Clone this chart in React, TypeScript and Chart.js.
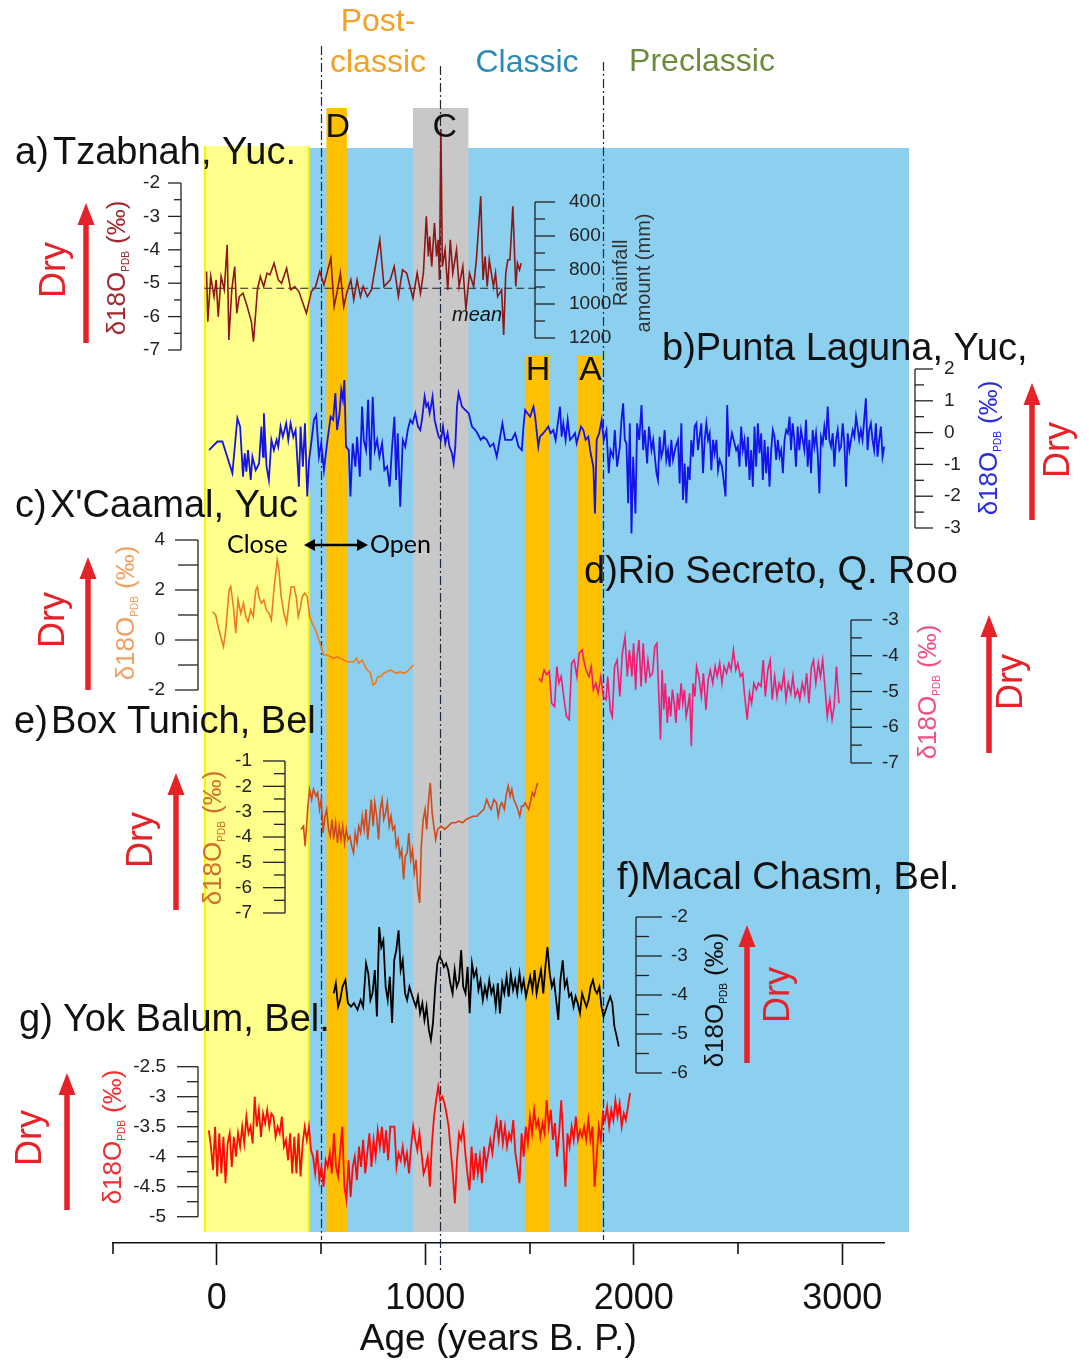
import React, { useEffect, useRef } from "react";
import { Chart, registerables } from "chart.js";

Chart.register(...registerables);

type Pt = [number, number];

// ---------------- x axis ----------------
const xRange = [-500, 3200];
const xMajorTicks = [0, 1000, 2000, 3000];
const xMinorTicks = [-500, 500, 1500, 2500];

// ---------------- periods / events (years B.P.) ----------------
const periodBoundaries = [502, 1072, 1852];
const skySpan = [-57, 3320];
const closedSpan = [-57, 442];
const eventLetters = ["D", "C", "H", "A"];
const eventSpans = [[526, 624], [941, 1207], [1478, 1593], [1729, 1848]];

// ---------------- series: [age, d18O] ----------------
const tzabnah: Pt[] = [[-49,-4.65],[-43,-6.15],[-29,-4.8],[-13,-5.4],[-3,-4.9],[7,-6.0],[21,-4.8],[36,-5.2],[50,-3.85],[58,-6.7],[72,-5.2],[86,-4.5],[96,-5.9],[108,-5.4],[126,-5.3],[146,-5.7],[166,-6.15],[176,-6.75],[195,-5.2],[209,-4.8],[225,-5.1],[241,-4.7],[255,-4.75],[275,-4.4],[295,-4.9],[311,-5.0],[335,-4.55],[355,-5.2],[374,-5.1],[394,-5.25],[430,-5.9],[454,-5.25],[474,-5.1],[494,-4.65],[514,-5.05],[547,-4.25],[563,-5.7],[579,-5.2],[593,-4.7],[609,-5.7],[623,-5.3],[643,-4.9],[657,-5.5],[673,-4.9],[689,-5.4],[702,-5.1],[722,-5.4],[742,-5.2],[782,-3.7],[802,-5.1],[832,-4.9],[851,-4.5],[871,-5.4],[891,-4.6],[911,-4.7],[941,-5.45],[961,-4.7],[977,-5.3],[991,-4.7],[1005,-3.0],[1015,-4.2],[1021,-3.6],[1031,-4.5],[1044,-3.2],[1054,-4.2],[1062,-3.7],[1068,-4.9],[1075,-0.4],[1082,-4.5],[1095,-4.0],[1108,-5.2],[1120,-3.7],[1132,-4.7],[1150,-4.0],[1162,-5.1],[1180,-4.5],[1195,-5.8],[1212,-4.7],[1232,-5.1],[1245,-4.3],[1266,-2.4],[1277,-4.9],[1287,-4.2],[1297,-5.1],[1307,-4.3],[1327,-5.1],[1337,-4.7],[1347,-5.4],[1366,-5.2],[1376,-6.55],[1386,-4.7],[1396,-4.3],[1406,-4.3],[1420,-2.7],[1434,-5.1],[1442,-4.4],[1452,-4.6],[1460,-4.4]];
const tzabnahMean = -5.15;
const tzabnahMeanSpan = [-60, 1555];

const puntaLaguna: Pt[] = [[-37,-0.55],[3,-0.28],[27,-0.28],[75,-1.28],[99,0.45],[112,0.19],[126,-1.39],[134,-0.65],[142,-1.23],[150,-0.55],[163,-1.49],[171,-0.76],[187,-1.18],[203,-0.97],[214,0.19],[222,-0.76],[226,0.61],[239,-1.07],[250,-1.49],[262,-0.23],[274,-0.55],[287,-0.23],[295,-0.44],[306,0.19],[317,-0.13],[333,0.29],[343,-0.23],[354,0.29],[367,-0.13],[378,0.08],[394,-1.70],[402,0.19],[413,-1.07],[423,0.29],[434,-2.01],[443,-0.86],[453,-0.34],[466,0.40],[477,0.55],[490,-0.76],[501,-0.34],[514,-1.18],[529,-0.34],[546,0.50],[558,0.40],[569,1.24],[577,0.08],[589,0.61],[597,1.34],[605,1.03],[612,1.65],[620,-0.44],[633,-0.55],[641,-2.01],[652,-0.34],[665,-1.07],[673,-0.13],[686,-1.39],[697,0.82],[705,-0.23],[716,-0.55],[726,1.03],[737,-1.18],[748,1.13],[758,-0.55],[769,-0.23],[780,-0.76],[793,-0.34],[804,-1.18],[817,-1.07],[829,-1.70],[841,-0.44],[852,0.50],[860,-1.49],[868,-0.02],[880,-2.33],[892,-0.23],[904,-0.44],[916,0.08],[928,0.40],[939,0.29],[952,0.61],[965,0.19],[976,0.08],[984,0.40],[997,1.13],[1005,0.82],[1013,0.92],[1021,0.61],[1027,0.82],[1035,1.13],[1045,0.40],[1056,0.08],[1064,-0.13],[1075,-0.23],[1085,0.19],[1096,-0.34],[1107,-0.02],[1116,-0.44],[1128,-0.65],[1136,-0.97],[1144,-0.44],[1152,0.82],[1160,1.24],[1168,1.03],[1176,0.82],[1192,0.71],[1208,0.61],[1224,0.19],[1240,0.08],[1250,-0.02],[1266,-0.23],[1279,-0.13],[1295,-0.23],[1311,-0.44],[1327,-0.34],[1343,-0.76],[1359,-0.13],[1370,0.29],[1383,-0.23],[1399,-0.23],[1415,-0.23],[1431,-0.02],[1447,-0.44],[1463,-0.55],[1471,0.19],[1479,0.71],[1490,0.61],[1503,0.50],[1519,0.82],[1527,0.50],[1542,-0.44],[1550,-0.13],[1566,-0.02],[1578,0.08],[1590,0.19],[1601,-0.02],[1614,0.08],[1625,-0.23],[1638,0.40],[1646,0.82],[1654,-0.13],[1662,0.29],[1673,-0.23],[1683,0.40],[1694,-0.23],[1707,-0.13],[1718,-0.02],[1726,-0.34],[1734,-0.13],[1747,0.19],[1758,0.08],[1769,-0.23],[1782,-0.13],[1793,-0.65],[1806,-1.07],[1814,-2.54],[1822,-0.23],[1834,-0.02],[1846,0.40],
[1856,-0.23],[1869,0.08],[1880,-1.28],[1888,-0.55],[1901,-0.76],[1909,0.08],[1920,-1.07],[1933,-0.44],[1941,0.40],[1949,0.92],[1957,-0.23],[1965,-0.34],[1973,-2.22],[1981,0.29],[1989,-3.17],[1997,-0.76],[2008,-2.54],[2016,0.29],[2026,-0.23],[2037,0.87],[2045,-0.55],[2053,0.08],[2064,-0.97],[2073,0.19],[2085,-0.55],[2093,-0.23],[2101,-0.76],[2109,-1.28],[2116,-1.49],[2124,-0.13],[2132,-0.76],[2140,-0.55],[2148,0.08],[2156,-0.86],[2164,-0.55],[2172,-1.07],[2180,-0.23],[2188,-0.86],[2201,-0.44],[2212,-0.23],[2220,-1.60],[2228,0.29],[2236,-2.12],[2244,-0.97],[2252,-2.22],[2260,-1.07],[2268,-1.49],[2276,-0.23],[2284,-0.76],[2292,0.19],[2300,0.29],[2308,-0.55],[2316,-0.13],[2324,0.29],[2332,-1.28],[2340,-0.23],[2348,0.29],[2356,-0.23],[2364,-0.02],[2372,-1.18],[2380,-0.23],[2388,-0.65],[2396,-0.23],[2404,-1.18],[2412,-0.86],[2423,-1.07],[2431,-1.49],[2440,-2.01],[2448,0.87],[2456,-0.76],[2463,-0.34],[2471,-0.02],[2479,-0.23],[2491,-0.55],[2499,-0.44],[2507,-1.07],[2515,0.19],[2523,-0.55],[2531,-0.23],[2539,-1.07],[2547,-0.13],[2555,-1.49],[2563,-0.55],[2571,-1.70],[2579,0.19],[2587,-1.07],[2595,0.29],[2603,-0.65],[2611,-0.02],[2619,-1.49],[2627,-0.23],[2635,-1.28],[2643,-0.44],[2651,-1.70],[2659,-0.55],[2667,0.08],[2675,-0.13],[2683,-0.86],[2691,-0.23],[2699,-0.76],[2707,-0.55],[2715,-1.28],[2723,-0.23],[2731,0.08],[2739,-0.02],[2747,0.50],[2754,-0.55],[2762,0.29],[2770,-0.23],[2778,-1.07],[2786,0.19],[2794,-0.55],[2802,0.08],[2810,-0.23],[2818,-0.55],[2826,0.40],[2834,-1.07],[2842,-0.23],[2850,-1.28],[2858,0.08],[2866,-0.44],[2874,-0.02],[2882,-0.65],[2890,-1.91],[2898,-0.13],[2906,-0.34],[2914,0.19],[2922,-0.23],[2930,0.82],[2938,-0.23],[2946,-0.44],[2954,-0.02],[2962,-1.07],[2970,-0.23],[2978,0.08],[2986,-0.55],[2994,-0.44],[3002,0.29],[3010,-0.34],[3018,-1.70],[3026,-0.02],[3034,-0.55],[3042,-0.23],[3050,0.08],[3058,-0.13],[3066,0.50],[3073,0.19],[3081,-0.23],[3089,0.08],[3097,-0.23],[3105,0.40],[3113,1.08],[3121,-0.55],[3129,0.08],[3137,0.29],[3145,-0.23],[3153,-0.55],[3161,0.29],[3169,-0.76],[3177,-0.23],[3185,0.19],[3193,-0.76],[3201,-0.44],[3209,0.19],[3217,-0.55],[3225,0.40],[3233,-0.23],[3241,0.19],[3249,-0.55],[3257,-0.02],[3265,-0.34],[3273,-0.13],[3281,-0.55],[3289,-0.23],[3297,0.40],[3305,-0.76],[3313,-0.23],[3318,-0.65]];

const xcaamal: Pt[] = [[-21,1.13],[-5,1.0],[3,0.67],[19,0.13],[32,-0.27],[43,0.4],[59,2.0],[67,2.13],[80,1.33],[91,0.27],[102,1.6],[115,1.07],[128,1.47],[139,0.93],[150,0.73],[163,1.2],[175,0.93],[187,2.0],[195,2.13],[202,1.73],[214,1.47],[226,1.6],[238,1.2],[250,1.07],[262,0.8],[274,2.0],[290,3.2],[298,2.8],[309,1.73],[322,1.07],[335,0.67],[346,1.47],[357,2.13],[370,2.13],[381,1.73],[391,0.93],[402,1.33],[410,1.73],[421,1.87],[434,1.73],[446,0.93],[458,0.67],[474,0.4],[490,0.0],[501,-0.27],[513,-0.6],[530,-0.6],[545,-0.67],[561,-0.73],[577,-0.67],[593,-0.73],[609,-0.8],[625,-0.87],[641,-0.87],[657,-0.87],[670,-0.73],[681,-0.93],[697,-0.8],[708,-1.0],[721,-1.2],[737,-1.33],[750,-1.8],[761,-1.73],[772,-1.47],[785,-1.47],[800,-1.33],[816,-1.27],[833,-1.2],[848,-1.27],[864,-1.33],[880,-1.27],[896,-1.33],[912,-1.27],[928,-1.13],[944,-1.0]];

const rioSecreto: Pt[] = [[1545,-4.63],[1557,-4.72],[1570,-4.4],[1583,-4.53],[1595,-4.44],[1606,-5.33],[1620,-5.42],[1631,-4.3],[1641,-4.77],[1652,-4.58],[1664,-5.14],[1677,-5.7],[1690,-5.79],[1702,-4.21],[1714,-4.12],[1727,-4.58],[1738,-3.93],[1752,-3.84],[1760,-4.12],[1771,-4.4],[1785,-4.58],[1796,-4.3],[1806,-4.95],[1818,-4.77],[1829,-5.05],[1842,-4.58],[1854,-5.14],[1867,-5.23],[1875,-4.58],[1887,-5.51],[1897,-5.7],[1908,-4.3],[1920,-4.12],[1933,-5.14],[1945,-3.93],[1958,-3.47],[1969,-4.58],[1979,-3.84],[1991,-4.58],[1999,-3.65],[2009,-4.95],[2016,-4.02],[2025,-3.56],[2035,-4.86],[2045,-3.65],[2057,-4.77],[2068,-4.12],[2078,-4.58],[2090,-4.49],[2101,-3.74],[2111,-3.65],[2119,-4.95],[2128,-6.35],[2136,-4.4],[2144,-5.51],[2151,-4.77],[2161,-5.88],[2169,-5.14],[2177,-5.7],[2185,-4.95],[2194,-5.33],[2202,-5.88],[2210,-5.05],[2218,-5.51],[2227,-4.77],[2235,-5.33],[2243,-4.95],[2251,-5.7],[2260,-5.42],[2268,-5.05],[2276,-6.53],[2284,-4.77],[2293,-5.14],[2301,-4.3],[2312,-4.58],[2324,-5.14],[2334,-4.49],[2346,-5.51],[2357,-4.67],[2367,-4.4],[2379,-4.77],[2390,-4.3],[2400,-4.58],[2412,-4.21],[2423,-4.77],[2433,-4.3],[2445,-4.49],[2456,-4.21],[2466,-4.4],[2478,-3.84],[2489,-4.4],[2499,-4.21],[2511,-4.58],[2522,-4.49],[2532,-5.14],[2544,-5.79],[2555,-5.05],[2565,-5.33],[2576,-4.77],[2588,-4.95],[2598,-4.77],[2610,-4.86],[2621,-4.12],[2631,-5.14],[2643,-4.4],[2654,-4.12],[2664,-5.23],[2676,-4.58],[2687,-5.14],[2697,-4.77],[2708,-4.95],[2720,-4.49],[2730,-5.23],[2741,-4.77],[2753,-5.05],[2763,-4.58],[2774,-5.14],[2786,-4.95],[2796,-5.23],[2808,-4.77],[2819,-5.05],[2829,-4.49],[2840,-5.33],[2852,-4.3],[2862,-4.12],[2873,-4.77],[2885,-4.21],[2895,-4.58],[2906,-4.12],[2918,-4.95],[2928,-5.7],[2940,-5.23],[2951,-5.79],[2961,-5.42],[2972,-4.3],[2984,-5.33]];

const boxTunich: Pt[] = [[404,-3.7],[416,-3.57],[424,-4.36],[436,-2.91],[445,-2.12],[455,-2.52],[464,-2.12],[476,-2.39],[484,-2.25],[493,-2.91],[501,-2.52],[510,-3.84],[519,-3.18],[527,-2.91],[536,-3.7],[544,-3.97],[553,-3.31],[561,-4.1],[570,-3.44],[579,-4.23],[587,-3.57],[596,-4.1],[604,-3.57],[613,-4.23],[621,-3.7],[630,-4.1],[639,-3.97],[647,-4.36],[656,-4.63],[664,-3.84],[673,-4.23],[681,-3.57],[690,-3.84],[698,-3.18],[707,-3.7],[716,-2.91],[724,-4.1],[733,-3.31],[741,-2.52],[750,-3.57],[758,-2.65],[767,-3.18],[776,-4.1],[784,-2.91],[793,-2.52],[801,-3.31],[810,-3.04],[818,-2.65],[827,-3.57],[836,-3.18],[844,-3.7],[853,-3.57],[861,-4.36],[870,-4.1],[878,-4.76],[887,-4.5],[896,-5.68],[904,-4.76],[913,-4.63],[921,-3.84],[930,-4.89],[939,-4.5],[947,-5.42],[956,-4.89],[964,-6.08],[973,-6.6],[981,-4.36],[990,-3.31],[999,-2.91],[1007,-3.7],[1016,-2.52],[1024,-1.86],[1033,-3.04],[1041,-3.57],[1050,-4.1],[1059,-3.7],[1076,-3.57],[1093,-3.7],[1110,-3.57],[1127,-3.44],[1144,-3.44],[1161,-3.37],[1179,-3.44],[1196,-3.31],[1213,-3.24],[1230,-3.18],[1247,-3.18],[1264,-3.04],[1281,-2.91],[1295,-2.52],[1307,-2.78],[1316,-2.91],[1329,-2.52],[1341,-2.65],[1350,-3.18],[1359,-2.78],[1367,-2.65],[1379,-2.91],[1390,-2.25],[1398,-1.99],[1407,-2.39],[1415,-2.12],[1424,-2.52],[1432,-2.65],[1444,-2.91],[1453,-3.18],[1462,-2.78],[1470,-2.78],[1479,-2.65],[1487,-2.78],[1496,-2.91],[1504,-2.65],[1513,-2.25],[1522,-2.39],[1530,-2.12],[1539,-1.86]];

const macalChasm: Pt[] = [[561,-3.96],[571,-3.7],[582,-4.3],[592,-4.13],[603,-3.79],[617,-3.62],[629,-4.21],[644,-4.3],[658,-4.21],[675,-4.38],[690,-4.13],[702,-4.3],[716,-3.19],[727,-3.45],[737,-4.13],[747,-3.96],[758,-3.36],[768,-4.55],[779,-2.26],[789,-2.77],[799,-2.6],[810,-3.79],[820,-4.13],[830,-3.53],[841,-4.72],[851,-3.11],[861,-2.85],[872,-2.34],[882,-3.36],[892,-3.11],[903,-3.96],[913,-4.13],[924,-3.79],[934,-3.96],[944,-4.13],[955,-4.3],[965,-4.04],[975,-4.47],[986,-4.21],[996,-4.64],[1006,-4.3],[1017,-4.89],[1027,-5.15],[1037,-4.72],[1048,-3.79],[1058,-3.19],[1068,-3.02],[1079,-3.11],[1089,-3.28],[1100,-3.19],[1110,-3.36],[1120,-3.7],[1131,-3.96],[1141,-3.36],[1151,-3.79],[1162,-3.62],[1172,-2.85],[1182,-3.79],[1193,-3.96],[1203,-3.28],[1213,-4.47],[1224,-3.19],[1234,-3.53],[1245,-3.36],[1255,-3.87],[1265,-3.62],[1276,-4.13],[1286,-3.79],[1296,-4.04],[1307,-3.62],[1317,-3.96],[1327,-3.79],[1338,-4.3],[1348,-3.7],[1358,-4.47],[1369,-3.7],[1379,-3.96],[1390,-3.53],[1400,-4.04],[1410,-3.45],[1421,-3.87],[1431,-3.62],[1441,-3.96],[1452,-3.45],[1462,-3.87],[1472,-3.62],[1483,-4.04],[1493,-3.79],[1503,-3.53],[1514,-3.87],[1524,-3.36],[1534,-3.96],[1545,-3.62],[1555,-3.36],[1566,-3.96],[1576,-3.28],[1586,-2.77],[1597,-3.45],[1607,-3.79],[1617,-3.62],[1628,-4.13],[1638,-4.64],[1648,-3.62],[1659,-3.11],[1669,-3.79],[1679,-3.62],[1690,-4.04],[1700,-3.96],[1711,-4.3],[1721,-4.04],[1731,-4.21],[1742,-4.47],[1752,-3.96],[1762,-4.13],[1773,-4.3],[1783,-4.13],[1793,-3.79],[1804,-3.62],[1814,-3.87],[1824,-3.96],[1835,-3.79],[1845,-4.3],[1855,-4.55],[1866,-4.38],[1876,-4.21],[1887,-4.04],[1897,-4.21],[1907,-4.81],[1918,-5.06],[1928,-5.32]];

const yokBalum: Pt[] = [[-38,-3.56],[-28,-3.83],[-18,-4.22],[-8,-3.5],[2,-4.33],[12,-3.61],[22,-4.28],[32,-3.67],[42,-4.44],[52,-3.78],[62,-3.61],[72,-4.17],[82,-3.67],[92,-4.0],[102,-3.61],[112,-3.83],[122,-3.5],[132,-3.78],[142,-3.33],[152,-3.61],[162,-3.5],[172,-3.78],[182,-3.0],[192,-3.5],[202,-3.22],[212,-3.67],[222,-3.28],[232,-3.44],[242,-3.22],[252,-3.5],[262,-3.28],[272,-3.33],[282,-3.67],[292,-3.5],[302,-3.61],[312,-3.33],[322,-3.83],[332,-3.72],[342,-4.06],[352,-3.61],[362,-4.28],[372,-3.67],[382,-4.28],[392,-3.61],[402,-4.33],[412,-3.78],[422,-3.5],[432,-3.72],[442,-3.5],[452,-3.89],[462,-4.0],[472,-4.28],[482,-3.89],[492,-4.39],[502,-4.17],[512,-4.5],[522,-4.06],[532,-4.17],[542,-3.94],[552,-4.28],[562,-3.61],[572,-4.17],[582,-4.33],[592,-3.89],[602,-3.5],[612,-4.5],[622,-4.72],[632,-4.06],[642,-4.67],[652,-4.17],[662,-4.0],[672,-4.39],[682,-3.83],[692,-4.17],[702,-3.72],[712,-4.28],[722,-3.94],[732,-3.61],[742,-4.17],[752,-3.72],[762,-4.0],[772,-3.56],[782,-3.83],[792,-3.5],[802,-3.94],[812,-3.56],[822,-4.06],[832,-3.5],[842,-3.5],[852,-3.5],[862,-4.17],[872,-3.94],[882,-4.06],[892,-3.83],[902,-4.11],[912,-3.94],[922,-4.28],[932,-3.83],[942,-3.5],[952,-3.72],[962,-3.89],[972,-3.61],[982,-3.94],[992,-4.28],[1002,-4.17],[1012,-4.0],[1022,-4.5],[1032,-3.78],[1042,-3.33],[1052,-3.06],[1062,-2.83],[1072,-3.06],[1082,-3.0],[1092,-3.11],[1102,-3.28],[1112,-3.5],[1122,-3.89],[1132,-4.28],[1142,-4.78],[1152,-4.06],[1162,-3.61],[1172,-3.72],[1182,-3.5],[1192,-3.94],[1202,-4.28],[1212,-4.56],[1222,-3.83],[1232,-4.39],[1242,-3.94],[1252,-4.28],[1262,-4.0],[1272,-4.44],[1282,-3.83],[1292,-4.17],[1302,-3.94],[1312,-3.72],[1322,-3.94],[1332,-3.61],[1342,-3.39],[1352,-3.72],[1362,-3.39],[1372,-3.78],[1382,-3.5],[1392,-3.83],[1402,-3.61],[1412,-3.72],[1422,-3.39],[1432,-3.94],[1442,-4.17],[1452,-4.44],[1462,-3.61],[1472,-4.0],[1482,-3.5],[1492,-3.78],[1502,-3.33],[1512,-3.61],[1522,-3.22],[1532,-3.5],[1542,-3.39],[1552,-3.67],[1562,-3.44],[1572,-3.61],[1582,-3.06],[1592,-3.5],[1602,-3.22],[1612,-3.72],[1622,-3.44],[1632,-4.0],[1642,-3.61],[1652,-3.06],[1662,-3.72],[1672,-4.5],[1682,-3.61],[1692,-3.83],[1702,-3.5],[1712,-3.72],[1722,-3.33],[1732,-3.72],[1742,-3.56],[1752,-3.67],[1762,-3.5],[1772,-3.72],[1782,-3.39],[1792,-3.72],[1802,-3.5],[1812,-4.5],[1822,-4.0],[1832,-3.5],[1842,-3.72],[1852,-3.28],[1862,-3.39],[1872,-3.17],[1882,-3.5],[1892,-3.22],[1902,-3.39],[1912,-3.06],[1922,-3.33],[1932,-3.11],[1942,-3.5],[1952,-3.28],[1962,-3.39],[1972,-3.17],[1982,-2.94]];

// ---------------- series axis ticks ----------------
const tzabTicks = [-2, -3, -4, -5, -6, -7];
const tzabMinor = [-2.5, -3.5, -4.5, -5.5, -6.5];
const rainTicks = [400, 600, 800, 1000, 1200];
const rainMinor = [500, 700, 900, 1100];
const puntaTicks = [2, 1, 0, -1, -2, -3];
const puntaMinor = [1.5, 0.5, -0.5, -1.5, -2.5];
const xcaTicks = [4, 2, 0, -2];
const xcaMinor = [3, 1, -1];
const rioTicks = [-3, -4, -5, -6, -7];
const rioMinor = [-3.5, -4.5, -5.5, -6.5];
const boxTicks = [-1, -2, -3, -4, -5, -6, -7];
const boxMinor = [-1.5, -2.5, -3.5, -4.5, -5.5, -6.5];
const macalTicks = [-2, -3, -4, -5, -6];
const macalMinor = [-2.5, -3.5, -4.5, -5.5];
const yokTicks = [-2.5, -3, -3.5, -4, -4.5, -5];
const yokMinor = [-2.75, -3.25, -3.75, -4.25, -4.75];

// ---------------- layout / styles ----------------
const W = 1089;
const H = 1362;
const PLOT_BOTTOM = 1243;
const FONT = "'Liberation Sans', Arial, Helvetica, sans-serif";
const SKY = "#8CCFEF";
const YELLOW = "#FFFF8C";
const ORANGE = "#FFC000";
const GRAY = "#C8C8C8";
const SKY_TOP = 148;
const YELLOW_TOP = 146;
const BAND_BOTTOM = 1232;
const EVENT_TOPS = [108, 108, 356, 356];
const EVENT_LETTER_Y = [128, 128, 371, 371];
const EVENT_LETTER_DX = [1, 4, 1, 1];
const LINE_TOPS = [46, 66, 62];
const LINE_BOTTOMS = [1240, 1272, 1240];
const DRY = "#E52228";
const X_MAJOR_LEN = 22;
const X_MINOR_LEN = 11;
const PANEL_FONT = `38px ${FONT}`;

type AxisSpec = { id: string; anchor: number[]; x: number; side: "left" | "right"; major: number[]; minor: number[]; majorLen: number; minorLen: number; gap: number };

const axisSpecs: AxisSpec[] = [
  { id: "ya", anchor: [-2, 183, -7, 350], x: 181, side: "left", major: tzabTicks, minor: tzabMinor, majorLen: 13, minorLen: 7, gap: 8 },
  { id: "yrain", anchor: [400, 202, 1200, 338], x: 535, side: "right", major: rainTicks, minor: rainMinor, majorLen: 20, minorLen: 10, gap: 14 },
  { id: "yb", anchor: [2, 369, -3, 528], x: 915, side: "right", major: puntaTicks, minor: puntaMinor, majorLen: 18, minorLen: 9, gap: 11 },
  { id: "yc", anchor: [4, 540, -2, 690], x: 198, side: "left", major: xcaTicks, minor: xcaMinor, majorLen: 23, minorLen: 20, gap: 10 },
  { id: "yd", anchor: [-3, 620, -7, 763], x: 851, side: "right", major: rioTicks, minor: rioMinor, majorLen: 21, minorLen: 11, gap: 10 },
  { id: "ye", anchor: [-1, 761, -7, 913], x: 285, side: "left", major: boxTicks, minor: boxMinor, majorLen: 22, minorLen: 11, gap: 11 },
  { id: "yf", anchor: [-2, 917, -6, 1073], x: 636, side: "right", major: macalTicks, minor: macalMinor, majorLen: 26, minorLen: 13, gap: 9 },
  { id: "yg", anchor: [-2.5, 1066.7, -5, 1216.7], x: 198, side: "left", major: yokTicks, minor: yokMinor, majorLen: 21, minorLen: 11, gap: 11 },
];

const seriesDefs = [
  { data: tzabnah, axis: "ya", color: "#8E1616", width: 1.6 },
  { data: puntaLaguna, axis: "yb", color: "#1414E8", width: 1.8 },
  { data: xcaamal, axis: "yc", color: "#F07A1E", width: 1.6 },
  { data: rioSecreto, axis: "yd", color: "#EE1F72", width: 1.6 },
  { data: boxTunich, axis: "ye", color: "#D2491C", width: 1.6 },
  { data: macalChasm, axis: "yf", color: "#000000", width: 1.8 },
  { data: yokBalum, axis: "yg", color: "#FF0A0A", width: 1.8 },
];

const deltaLabels = [
  { x: 118, y: 268, color: "#A02A30" },
  { x: 990, y: 448, color: "#2B2BE0" },
  { x: 127, y: 613, color: "#F2A062" },
  { x: 929, y: 692, color: "#F0508A" },
  { x: 214, y: 838, color: "#D0702A" },
  { x: 716, y: 1000, color: "#111111" },
  { x: 114, y: 1137, color: "#F03030" },
];
const dryLabels = [
  { x: 55, y: 270, ax: 86, a0: 343, a1: 203 },
  { x: 1059, y: 450, ax: 1032, a0: 520, a1: 383 },
  { x: 54, y: 620, ax: 88, a0: 690, a1: 557 },
  { x: 1012, y: 682, ax: 989, a0: 753, a1: 615 },
  { x: 142, y: 840, ax: 176, a0: 910, a1: 773 },
  { x: 779, y: 995, ax: 747, a0: 1063, a1: 925 },
  { x: 31, y: 1138, ax: 67, a0: 1210, a1: 1073 },
];
const panelLabels = [
  { tag: "a)", name: "Tzabnah, Yuc.", x: 15, nx: 53, y: 154 },
  { tag: "c)", name: "X'Caamal, Yuc", x: 15, nx: 50, y: 507 },
  { tag: "e)", name: "Box Tunich, Bel", x: 14, nx: 51, y: 723 },
  { tag: "g)", name: "Yok Balum, Bel.", x: 19, nx: 63, y: 1021 },
  { tag: "b)", name: "Punta Laguna, Yuc,", x: 662, nx: 0, y: 350 },
  { tag: "d)", name: "Rio Secreto, Q. Roo", x: 584, nx: 0, y: 573 },
  { tag: "f)", name: "Macal Chasm, Bel.", x: 617, nx: 0, y: 879 },
];

function fitScale(vA: number, pA: number, vB: number, pB: number) {
  const k = (pB - pA) / (vB - vA);
  const vTop = vA - pA / k;
  const vBottom = vA + (PLOT_BOTTOM - pA) / k;
  return { min: Math.min(vTop, vBottom), max: Math.max(vTop, vBottom), reverse: vTop < vBottom };
}

function txt(ctx: any, s: string, x: number, y: number, font: string, color: string, align = "left", rot = 0) {
  ctx.save();
  ctx.translate(x, y);
  if (rot) ctx.rotate(rot);
  ctx.font = font;
  ctx.fillStyle = color;
  ctx.textAlign = align;
  ctx.textBaseline = "middle";
  ctx.fillText(s, 0, 0);
  ctx.restore();
}

function deltaLabel(ctx: any, cx: number, cy: number, color: string) {
  ctx.save();
  ctx.translate(cx, cy);
  ctx.rotate(-Math.PI / 2);
  ctx.fillStyle = color;
  ctx.textBaseline = "middle";
  ctx.textAlign = "left";
  const big = `26px ${FONT}`;
  const small = `10px ${FONT}`;
  ctx.font = big;
  const w1 = ctx.measureText("δ18O").width;
  const w3 = ctx.measureText(" (‰)").width;
  ctx.font = small;
  const w2 = ctx.measureText("PDB").width;
  let x = -(w1 + w2 + w3) / 2;
  ctx.font = big;
  ctx.fillText("δ18O", x, 0);
  x += w1;
  ctx.font = small;
  ctx.fillText("PDB", x, 8);
  x += w2;
  ctx.font = big;
  ctx.fillText(" (‰)", x, 0);
  ctx.restore();
}

function upArrow(ctx: any, x: number, y0: number, y1: number, color: string) {
  const hh = 22;
  const hw = 8.5;
  ctx.save();
  ctx.strokeStyle = color;
  ctx.fillStyle = color;
  ctx.lineWidth = 5.5;
  ctx.beginPath();
  ctx.moveTo(x, y0);
  ctx.lineTo(x, y1 + hh - 2);
  ctx.stroke();
  ctx.beginPath();
  ctx.moveTo(x, y1);
  ctx.lineTo(x - hw, y1 + hh);
  ctx.lineTo(x + hw, y1 + hh);
  ctx.closePath();
  ctx.fill();
  ctx.restore();
}

function dblArrow(ctx: any, x0: number, x1: number, y: number) {
  ctx.save();
  ctx.strokeStyle = "#000";
  ctx.fillStyle = "#000";
  ctx.lineWidth = 2.6;
  ctx.beginPath();
  ctx.moveTo(x0 + 8, y);
  ctx.lineTo(x1 - 8, y);
  ctx.stroke();
  ctx.beginPath();
  ctx.moveTo(x0, y);
  ctx.lineTo(x0 + 11, y - 6);
  ctx.lineTo(x0 + 11, y + 6);
  ctx.closePath();
  ctx.fill();
  ctx.beginPath();
  ctx.moveTo(x1, y);
  ctx.lineTo(x1 - 11, y - 6);
  ctx.lineTo(x1 - 11, y + 6);
  ctx.closePath();
  ctx.fill();
  ctx.restore();
}

function drawAxis(ctx: any, sc: any, a: AxisSpec) {
  const dir = a.side === "left" ? -1 : 1;
  const ys = a.major.map((v) => sc.getPixelForValue(v));
  ctx.save();
  ctx.strokeStyle = "#222";
  ctx.lineWidth = 1.3;
  ctx.beginPath();
  ctx.moveTo(a.x, Math.min(...ys));
  ctx.lineTo(a.x, Math.max(...ys));
  ctx.stroke();
  a.major.forEach((v) => {
    const y = sc.getPixelForValue(v);
    ctx.beginPath();
    ctx.moveTo(a.x, y);
    ctx.lineTo(a.x + dir * a.majorLen, y);
    ctx.stroke();
  });
  a.minor.forEach((v) => {
    const y = sc.getPixelForValue(v);
    ctx.beginPath();
    ctx.moveTo(a.x, y);
    ctx.lineTo(a.x + dir * a.minorLen, y);
    ctx.stroke();
  });
  ctx.font = `19px ${FONT}`;
  ctx.fillStyle = "#222";
  ctx.textBaseline = "middle";
  ctx.textAlign = a.side === "left" ? "right" : "left";
  a.major.forEach((v) => {
    ctx.fillText(String(v), a.x + dir * (a.majorLen + a.gap), sc.getPixelForValue(v));
  });
  ctx.restore();
}

const decorPlugin = {
  id: "decor",
  beforeDatasetsDraw(chart: any) {
    const ctx = chart.ctx;
    const xs = chart.scales.x;
    const px = (v: number) => xs.getPixelForValue(v);
    ctx.save();
    ctx.fillStyle = SKY;
    ctx.fillRect(px(skySpan[0]), SKY_TOP, px(skySpan[1]) - px(skySpan[0]), BAND_BOTTOM - SKY_TOP);
    ctx.fillStyle = YELLOW;
    ctx.fillRect(px(closedSpan[0]), YELLOW_TOP, px(closedSpan[1]) - px(closedSpan[0]), BAND_BOTTOM - YELLOW_TOP);
    ctx.strokeStyle = "#F4F400";
    ctx.lineWidth = 2;
    closedSpan.forEach((v) => {
      ctx.beginPath();
      ctx.moveTo(px(v), YELLOW_TOP);
      ctx.lineTo(px(v), BAND_BOTTOM);
      ctx.stroke();
    });
    eventSpans.forEach(([a, b], i) => {
      ctx.fillStyle = i === 1 ? GRAY : ORANGE;
      ctx.fillRect(px(a), EVENT_TOPS[i], px(b) - px(a), BAND_BOTTOM - EVENT_TOPS[i]);
    });
    ctx.strokeStyle = "#1C2B3A";
    ctx.lineWidth = 1.2;
    ctx.setLineDash([9, 3, 2, 3]);
    periodBoundaries.forEach((v, i) => {
      const x = Math.round(px(v)) + 0.5;
      ctx.beginPath();
      ctx.moveTo(x, LINE_TOPS[i]);
      ctx.lineTo(x, LINE_BOTTOMS[i]);
      ctx.stroke();
    });
    ctx.restore();
  },
  afterDatasetsDraw(chart: any) {
    const ctx = chart.ctx;
    const xs = chart.scales.x;
    const px = (v: number) => xs.getPixelForValue(v);
    ctx.save();
    ctx.strokeStyle = "#111";
    ctx.lineWidth = 1.6;
    xMinorTicks.forEach((v) => {
      const x = Math.round(px(v));
      ctx.beginPath();
      ctx.moveTo(x, PLOT_BOTTOM);
      ctx.lineTo(x, PLOT_BOTTOM + X_MINOR_LEN);
      ctx.stroke();
    });
    ctx.restore();

    axisSpecs.forEach((a) => drawAxis(ctx, chart.scales[a.id], a));

    txt(ctx, "Post-", 378, 22, `32px ${FONT}`, "#F4A024", "center");
    txt(ctx, "classic", 378, 63, `32px ${FONT}`, "#F4A024", "center");
    txt(ctx, "Classic", 527, 63, `32px ${FONT}`, "#2A8AB8", "center");
    txt(ctx, "Preclassic", 702, 62, `32px ${FONT}`, "#6B8C3A", "center");

    eventSpans.forEach(([a, b], i) => {
      txt(ctx, eventLetters[i], px((a + b) / 2) + EVENT_LETTER_DX[i], EVENT_LETTER_Y[i], `34px ${FONT}`, "#111", "center");
    });

    panelLabels.forEach((p) => {
      if (p.nx) {
        txt(ctx, p.tag, p.x, p.y, PANEL_FONT, "#111", "left");
        txt(ctx, p.name, p.nx, p.y, PANEL_FONT, "#111", "left");
      } else {
        txt(ctx, p.tag + p.name, p.x, p.y, PANEL_FONT, "#111", "left");
      }
    });

    deltaLabels.forEach((d) => deltaLabel(ctx, d.x, d.y, d.color));
    dryLabels.forEach((d) => {
      txt(ctx, "Dry", d.x, d.y, `36px ${FONT}`, DRY, "center", -Math.PI / 2);
      upArrow(ctx, d.ax, d.a0, d.a1, DRY);
    });

    txt(ctx, "Rainfall", 621, 273, `20px ${FONT}`, "#333", "center", -Math.PI / 2);
    txt(ctx, "amount (mm)", 644, 273, `20px ${FONT}`, "#333", "center", -Math.PI / 2);
    txt(ctx, "mean", 477, 315, `italic 20px ${FONT}`, "#111", "center");

    txt(ctx, "Close", 227, 545, `25px Lato, 'Open Sans', sans-serif`, "#000", "left");
    dblArrow(ctx, 304, 368, 545);
    txt(ctx, "Open", 370, 545, `25px Lato, 'Open Sans', sans-serif`, "#000", "left");
  },
};

export default function App() {
  const ref = useRef<HTMLCanvasElement | null>(null);

  useEffect(() => {
    const canvas = ref.current;
    if (!canvas) return;

    const datasets: any[] = seriesDefs.map((s) => ({
      type: "line",
      data: s.data.map(([x, y]) => ({ x, y })),
      yAxisID: s.axis,
      xAxisID: "x",
      borderColor: s.color,
      borderWidth: s.width,
      pointRadius: 0,
      tension: 0,
      fill: false,
      clip: false,
    }));
    datasets.push({
      type: "line",
      data: tzabnahMeanSpan.map((x) => ({ x, y: tzabnahMean })),
      yAxisID: "ya",
      xAxisID: "x",
      borderColor: "#222",
      borderWidth: 1.1,
      borderDash: [8, 4],
      pointRadius: 0,
      fill: false,
      clip: false,
    });

    const scales: any = {
      x: {
        type: "linear",
        min: xRange[0],
        max: xRange[1],
        afterBuildTicks: (s: any) => {
          s.ticks = xMajorTicks.map((v) => ({ value: v }));
        },
        afterFit: (s: any) => {
          s.height = H - PLOT_BOTTOM;
        },
        border: { display: true, color: "#111", width: 1.6 },
        grid: {
          drawOnChartArea: false,
          drawTicks: true,
          tickLength: X_MAJOR_LEN,
          tickWidth: 1.6,
          tickColor: "#111",
        },
        ticks: {
          autoSkip: false,
          maxRotation: 0,
          minRotation: 0,
          padding: 12,
          color: "#111",
          font: { family: FONT, size: 36 },
          callback: (v: any) => String(v),
        },
        title: {
          display: true,
          text: "Age (years B. P.)",
          color: "#111",
          font: { family: FONT, size: 37 },
          padding: { top: 0, bottom: 0 },
        },
      },
    };
    axisSpecs.forEach((a) => {
      const f = fitScale(a.anchor[0], a.anchor[1], a.anchor[2], a.anchor[3]);
      scales[a.id] = { type: "linear", display: false, min: f.min, max: f.max, reverse: f.reverse };
    });

    const chart = new Chart(canvas, {
      type: "line",
      data: { datasets },
      options: {
        responsive: false,
        animation: false,
        events: [],
        devicePixelRatio: 1,
        layout: { padding: { left: 112.5, right: W - 884, top: 0, bottom: 0 } },
        plugins: { legend: { display: false }, tooltip: { enabled: false } },
        scales,
      },
      plugins: [decorPlugin],
    } as any);

    return () => chart.destroy();
  }, []);

  return (
    <div style={{ position: "absolute", left: 0, top: 0, width: W, height: H, background: "#fff" }}>
      <canvas ref={ref} width={W} height={H} style={{ display: "block", width: W, height: H }} />
    </div>
  );
}
